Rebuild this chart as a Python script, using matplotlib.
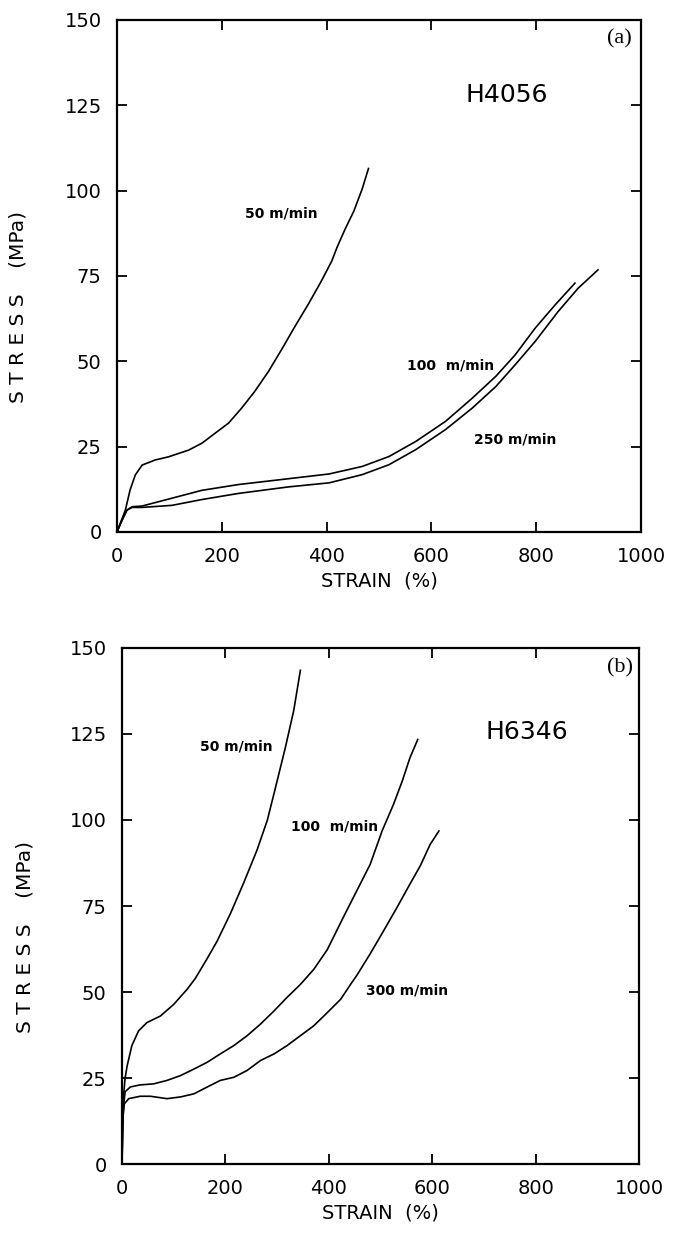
import matplotlib
matplotlib.use("Agg")
import matplotlib.pyplot as plt
import numpy as np

# ---- data (strain %, stress MPa) ----
# (a) H4056
a50_x = [0, 16, 25, 35, 48, 73, 98, 137, 162, 187, 213, 238, 263, 289, 314,
         340, 365, 390, 410, 420, 435, 452, 468, 480]
a50_y = [0, 6.4, 12.3, 16.7, 19.6, 21.1, 22.0, 24.0, 26.0, 28.9, 31.9, 36.3,
         41.2, 47.0, 53.4, 60.3, 66.7, 73.5, 79.4, 83.4, 88.6, 94.0, 100.5, 106.5]

a100_x = [0, 9.5, 19, 29, 48, 105, 162, 232, 327, 405, 468, 519, 570, 627,
          678, 723, 760, 798, 836, 874]
a100_y = [0, 3.4, 6.4, 7.4, 7.6, 9.9, 12.2, 13.9, 15.6, 17.0, 19.2, 22.1, 26.5,
          32.4, 39.2, 45.6, 51.9, 59.7, 66.5, 72.9]

a250_x = [0, 9.5, 19, 29, 48, 105, 162, 232, 327, 405, 468, 519, 570, 627,
          678, 723, 760, 798, 842, 880, 918]
a250_y = [0, 3.4, 6.4, 7.2, 7.2, 7.8, 9.5, 11.3, 13.2, 14.4, 16.8, 19.7, 24.1,
          30.0, 36.3, 42.6, 49.0, 55.8, 64.6, 71.4, 76.8]

# (b) H6346
b50_x = [0, 1, 3, 6, 10, 19, 32, 48, 74, 100, 126, 142, 165, 184, 210, 235,
         261, 281, 297, 316, 332, 345]
b50_y = [0, 10, 20, 25, 28.6, 34.4, 38.7, 41.1, 43.0, 46.4, 50.8, 54.0, 59.8,
         64.8, 72.9, 81.6, 91.2, 99.9, 109.5, 121.1, 131.7, 143.5]

b100_x = [0, 1, 3, 6, 16, 35, 61, 87, 113, 139, 165, 190, 216, 242, 268, 294,
          319, 345, 371, 397, 428, 454, 480, 503, 525, 542, 557, 572]
b100_y = [0, 10, 17, 21, 22.4, 23.0, 23.3, 24.3, 25.7, 27.6, 29.6, 32.0, 34.4,
          37.3, 40.7, 44.5, 48.4, 52.2, 56.6, 62.3, 71.7, 79.4, 87.1, 96.8,
          104.5, 111.3, 118.1, 123.4]

b300_x = [0, 1, 2, 4.5, 13, 35, 55, 87, 113, 139, 165, 190, 216, 242, 268, 294,
          319, 345, 371, 397, 423, 442, 454, 480, 506, 532, 557, 577, 596, 613]
b300_y = [0, 8, 14, 17.5, 19.0, 19.7, 19.7, 19.0, 19.5, 20.4, 22.4, 24.3, 25.2,
          27.2, 30.1, 32.0, 34.4, 37.3, 40.2, 44.0, 47.9, 52.2, 54.8, 61.1,
          67.8, 74.6, 81.4, 86.7, 92.9, 96.8]

x_ticks = [0, 200, 400, 600, 800, 1000]
y_ticks = [0, 25, 50, 75, 100, 125, 150]


def style_axes(ax):
    ax.set_xlim(0, 1000)
    ax.set_ylim(0, 150)
    ax.set_xticks(x_ticks)
    ax.set_yticks(y_ticks)
    ax.tick_params(direction='in', length=7, width=1.3, top=True, right=True,
                   labelsize=14, pad=11)
    for s in ax.spines.values():
        s.set_linewidth(1.6)
    ax.set_xlabel('STRAIN  (%)', fontsize=14, labelpad=4)
    ax.set_ylabel('S T R E S S    (MPa)', fontsize=14.5)
    ax.yaxis.set_label_coords(-0.17, 0.44)


fig = plt.figure(figsize=(6.73, 12.34), dpi=100)

# ---- panel (a) ----
ax1 = fig.add_axes([0.1738, 0.5689, 0.7786, 0.4149])
ax1.plot(a50_x, a50_y, color='black', lw=1.2)
ax1.plot(a100_x, a100_y, color='black', lw=1.2)
ax1.plot(a250_x, a250_y, color='black', lw=1.2)
style_axes(ax1)
ax1.text(314, 93.3, '50 m/min', fontsize=10, fontweight='bold', ha='center', va='center')
ax1.text(637, 48.7, '100  m/min', fontsize=10, fontweight='bold', ha='center', va='center')
ax1.text(760, 27, '250 m/min', fontsize=10, fontweight='bold', ha='center', va='center')
ax1.text(743, 128, 'H4056', fontsize=18, ha='center', va='center')
ax1.text(958, 144.4, '(a)', fontsize=16, family='Liberation Serif', ha='center', va='center')

# ---- panel (b) ----
ax2 = fig.add_axes([0.1813, 0.0567, 0.7682, 0.4182])
ax2.plot(b50_x, b50_y, color='black', lw=1.2)
ax2.plot(b100_x, b100_y, color='black', lw=1.2)
ax2.plot(b300_x, b300_y, color='black', lw=1.2)
style_axes(ax2)
ax2.text(221, 121.3, '50 m/min', fontsize=10, fontweight='bold', ha='center', va='center')
ax2.text(412, 98, '100  m/min', fontsize=10, fontweight='bold', ha='center', va='center')
ax2.text(551, 50.5, '300 m/min', fontsize=10, fontweight='bold', ha='center', va='center')
ax2.text(784, 125.5, 'H6346', fontsize=18, ha='center', va='center')
ax2.text(963, 144.3, '(b)', fontsize=16, family='Liberation Serif', ha='center', va='center')

fig.savefig('out.png', dpi=100)
